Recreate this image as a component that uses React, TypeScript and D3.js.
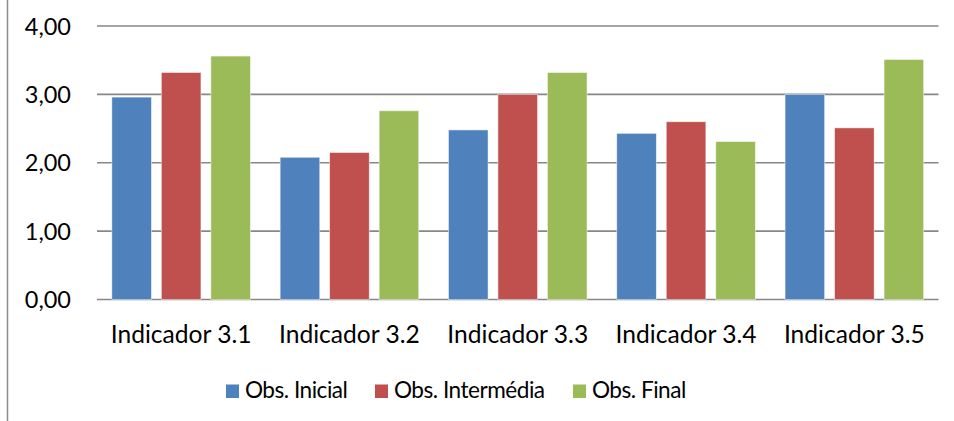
import React from "react";
import * as d3 from "d3";

const categories = ["Indicador 3.1", "Indicador 3.2", "Indicador 3.3", "Indicador 3.4", "Indicador 3.5"];
const seriesNames = ["Obs. Inicial", "Obs. Intermédia", "Obs. Final"];
const obsInicial = [2.96, 2.08, 2.48, 2.43, 3.0];
const obsIntermedia = [3.32, 2.15, 3.0, 2.6, 2.51];
const obsFinal = [3.56, 2.76, 3.32, 2.31, 3.51];
const yTicks = [0, 1, 2, 3, 4];
const colors = ["#4F81BD", "#C0504D", "#9BBB59"];

const W = 954;
const H = 421;
const FONT = "Lato, 'Open Sans', sans-serif";

export default function App() {
  const series = [obsInicial, obsIntermedia, obsFinal];
  const x0 = d3.scaleBand<string>().domain(categories).range([97, 938.5]).paddingInner(0).paddingOuter(0);
  const y = d3.scaleLinear().domain([0, 4]).range([299.5, 26]);
  const cw = x0.bandwidth();
  const bw = cw / 4.25;
  const gap = bw * 0.25;
  const pad = (cw - 3 * bw - 2 * gap) / 2;
  const fmt = (v: number) => v.toFixed(2).replace(".", ",");

  const legendX = [226, 375, 573];

  return (
    <svg width={W} height={H} style={{ position: "absolute", left: 0, top: 0, background: "#fff" }}>
      <rect x={0} y={0} width={W} height={H} fill="#fff" />
      <line x1={7.5} x2={7.5} y1={0} y2={H} stroke="#8c8c8c" strokeWidth={1.5} />
      {yTicks.map((t) => (
        <g key={t}>
          <line x1={97} x2={938.5} y1={y(t)} y2={y(t)} stroke="#878787" strokeWidth={1.6} />
          <text x={71} y={y(t) + 8.5} textAnchor="end" fontFamily={FONT} fontSize={23.5} fill="#000">
            {fmt(t)}
          </text>
        </g>
      ))}
      {categories.map((c, i) => (
        <g key={c}>
          {series.map((s, j) => {
            const bx = (x0(c) as number) + pad + j * (bw + gap);
            return (
              <rect
                key={j}
                x={bx}
                y={y(s[i])}
                width={bw}
                height={y(0) - y(s[i])}
                fill={colors[j]}
                stroke="#ffffff"
                strokeOpacity={0.6}
                strokeWidth={0.8}
              />
            );
          })}
          <text x={(x0(c) as number) + cw / 2} y={342.5} textAnchor="middle" fontFamily={FONT} fontSize={24.6} fill="#000">
            {c}
          </text>
        </g>
      ))}
      {seriesNames.map((n, j) => (
        <g key={n}>
          <rect x={legendX[j]} y={384.5} width={13} height={13.5} fill={colors[j]} />
          <text x={legendX[j] + 19} y={398} fontFamily={FONT} fontSize={22.6} letterSpacing={-0.5} fill="#000">
            {n}
          </text>
        </g>
      ))}
    </svg>
  );
}
